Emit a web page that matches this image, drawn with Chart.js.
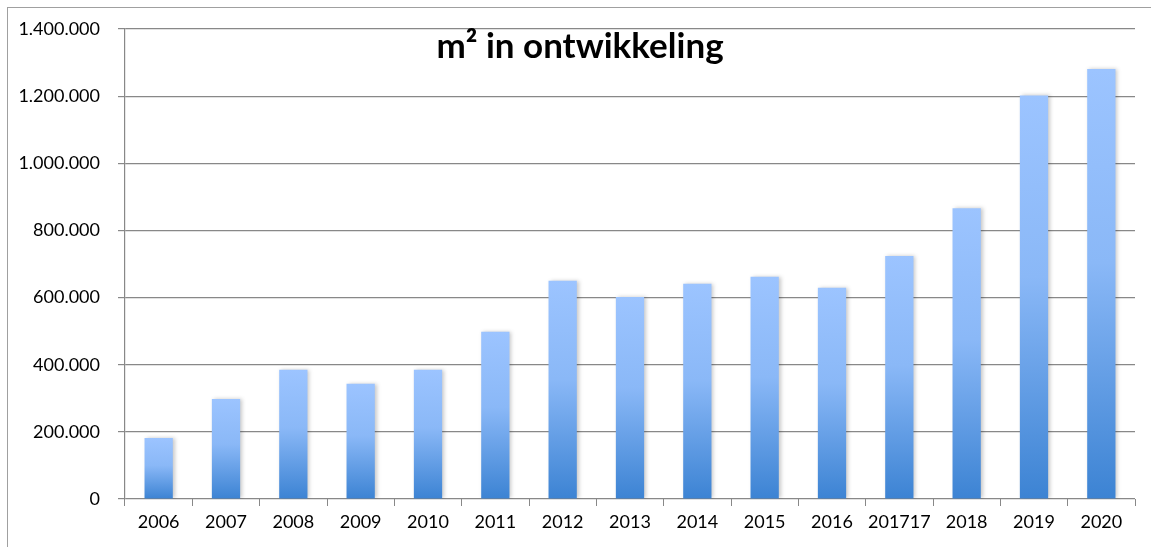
<!DOCTYPE html>
<html>
<head>
<meta charset="utf-8">
<script src="https://cdn.jsdelivr.net/npm/chart.js@4"></script>
<style>
  html, body { margin: 0; padding: 0; background: #fff; }
  #wrap { position: relative; width: 1151px; height: 547px; }
  #frame { position: absolute; left: 7px; top: 7px; right: -10px; bottom: -10px;
           border-left: 1px solid #a0a0a0; border-top: 1px solid #a0a0a0; pointer-events: none; }
</style>
</head>
<body>
<div id="wrap">
  <canvas id="myChart" width="1151" height="547"></canvas>
  <div id="frame"></div>
</div>
<script>
var years = ["2006", "2007", "2008", "2009", "2010", "2011", "2012", "2013", "2014", "2015", "2016", "201717", "2018", "2019", "2020"];
var m2 = [182000, 298000, 385000, 343000, 385000, 498000, 650000, 602000, 641000, 662000, 629000, 724000, 866000, 1202000, 1281000];
var yTicks = [0, 200000, 400000, 600000, 800000, 1000000, 1200000, 1400000];
var chartTitle = "m\u00B2 in ontwikkeling";

function dotted(v) {
    return String(v).replace(/\B(?=(\d{3})+(?!\d))/g, ".");
}

var titlePlugin = {
    id: "insideTitle",
    afterDraw: function(chart) {
        var ctx = chart.ctx;
        ctx.save();
        ctx.font = "bold 35px Lato, 'Open Sans', sans-serif";
        ctx.fillStyle = "#000";
        ctx.textAlign = "center";
        ctx.textBaseline = "middle";
        ctx.fillText(chartTitle, 580, 47);
        ctx.restore();
    }
};

var shadowPlugin = {
    id: "barShadow",
    beforeDatasetsDraw: function(chart) {
        var ctx = chart.ctx;
        ctx.save();
        ctx.shadowColor = "rgba(0,0,0,0.22)";
        ctx.shadowBlur = 4;
        ctx.shadowOffsetX = 2;
        ctx.shadowOffsetY = 0;
    },
    afterDatasetsDraw: function(chart) {
        chart.ctx.restore();
    }
};

window.onload = function() {
    var ctx = document.getElementById("myChart").getContext("2d");
    var myChart = new Chart(ctx, {
        type: "bar",
        data: {
            labels: years,
            datasets: [
                {
                    label: "m2",
                    data: m2,
                    backgroundColor: function(context) {
                        var chart = context.chart;
                        if (!chart.chartArea || context.type !== "data") {
                            return "#7aaef0";
                        }
                        var y = chart.scales.y;
                        var top = y.getPixelForValue(context.raw);
                        var bottom = y.getPixelForValue(0);
                        var g = chart.ctx.createLinearGradient(0, top, 0, bottom);
                        g.addColorStop(0, "#9cc4ff");
                        g.addColorStop(0.45, "#8ab8f7");
                        g.addColorStop(1, "#3c83d3");
                        return g;
                    },
                    borderWidth: 0,
                    barPercentage: 0.42,
                    categoryPercentage: 1.0,
                },
            ],
        },
        options: {
            responsive: false,
            animation: false,
            layout: {
                padding: { left: 0, right: 16, top: 29, bottom: 0 },
            },
            plugins: {
                legend: { display: false },
                title: { display: false },
                tooltip: { enabled: false },
            },
            scales: {
                x: {
                    offset: true,
                    afterFit: function(scale) { scale.height = 48; },
                    grid: {
                        offset: true,
                        drawOnChartArea: false,
                        drawTicks: true,
                        tickLength: 7,
                        color: "#888",
                        lineWidth: 1,
                    },
                    border: { display: false },
                    ticks: {
                        color: "#000",
                        padding: 5,
                        maxRotation: 0,
                        autoSkip: false,
                        font: { family: "Lato, 'Open Sans', sans-serif", size: 18 },
                    },
                },
                y: {
                    min: 0,
                    max: 1400000,
                    afterFit: function(scale) { scale.width = 125; },
                    afterBuildTicks: function(scale) {
                        scale.ticks = yTicks.map(function(v) { return { value: v }; });
                    },
                    grid: {
                        color: "#888",
                        lineWidth: 1.2,
                        tickLength: 7,
                    },
                    border: { display: true, color: "#888", width: 1.2 },
                    ticks: {
                        color: "#000",
                        padding: 18,
                        font: { family: "Lato, 'Open Sans', sans-serif", size: 18 },
                        callback: function(v) { return dotted(v); },
                    },
                },
            },
        },
        plugins: [shadowPlugin, titlePlugin],
    });
};
</script>
</body>
</html>
